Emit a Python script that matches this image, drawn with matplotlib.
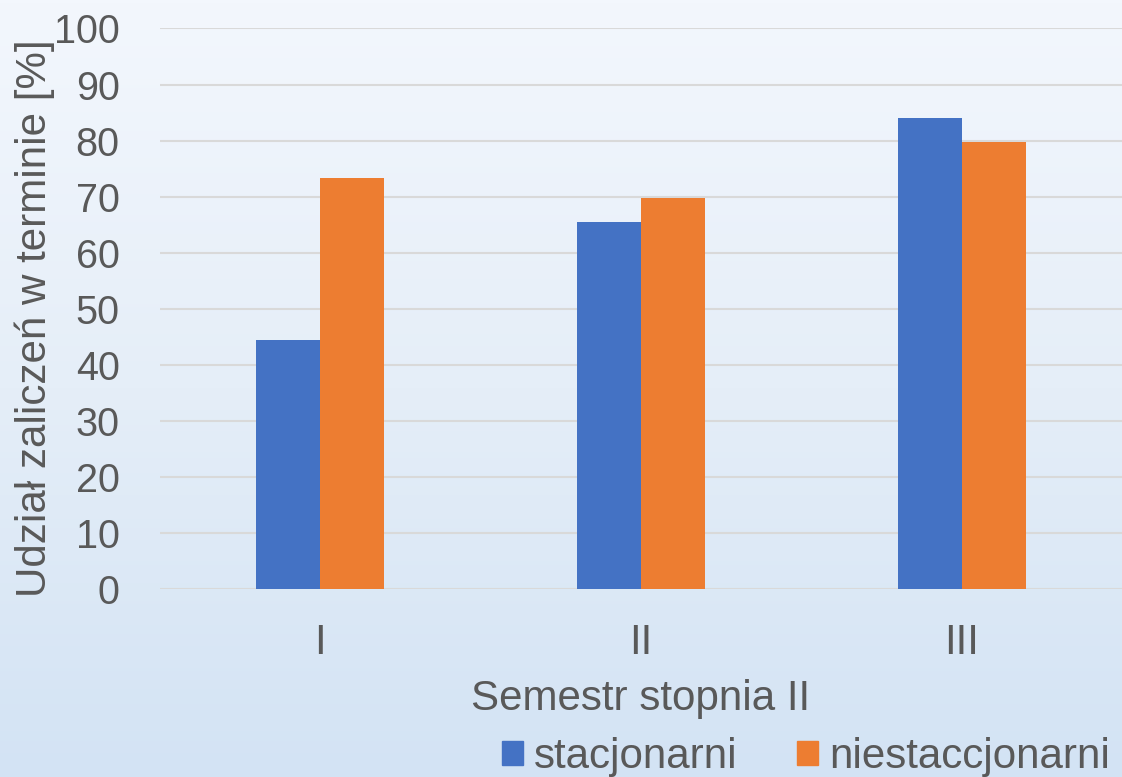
import numpy as np
import matplotlib
matplotlib.use("Agg")
import matplotlib.pyplot as plt
from matplotlib.patches import Patch
from matplotlib.colors import LinearSegmentedColormap

plt.rcParams['font.family'] = ['Liberation Sans', 'DejaVu Sans']

semesters = ['I', 'II', 'III']
stacjonarni = [44.4, 65.5, 84.1]
niestacjonarni = [73.3, 69.8, 79.8]
series_names = ['stacjonarni', 'niestaccjonarni']

blue = '#4472C4'
orange = '#ED7D31'
text_grey = '#595959'
fs_tick = 28.5
fs = 30.3

fig = plt.figure(figsize=(11.22, 7.77), dpi=100)

# soft vertical gradient behind everything
bg = fig.add_axes([0, 0, 1, 1], zorder=-10)
bg.set_axis_off()
grad = np.linspace(0, 1, 256).reshape(-1, 1)
cmap = LinearSegmentedColormap.from_list('bg', ['#F3F7FD', '#E5EEF8', '#D3E3F4'])
bg.imshow(grad, aspect='auto', cmap=cmap, extent=[0, 1, 0, 1], origin='upper')

ax = fig.add_axes([0.1426, 0.2414, 0.8574, 0.722])
ax.patch.set_alpha(0)

x = np.arange(len(semesters))
w = 0.2
ax.bar(x - w / 2, stacjonarni, width=w, color=blue, zorder=3)
ax.bar(x + w / 2, niestacjonarni, width=w, color=orange, zorder=3)

ax.set_xlim(-0.5, 2.5)
ax.set_ylim(0, 100)
ax.set_yticks(np.arange(0, 101, 10))
ax.set_xticks(x)
ax.set_xticklabels(semesters)
ax.grid(axis='y', color='#D9D9D9', linewidth=1.5, zorder=0)
ax.set_axisbelow(True)
for s in ax.spines.values():
    s.set_visible(False)
ax.tick_params(axis='both', length=0, labelsize=fs_tick, colors=text_grey)
ax.tick_params(axis='x', labelsize=fs, pad=24)
ax.tick_params(axis='y', pad=29)

fig.text(0.031, 1 - 318 / 777, 'Udział zaliczeń w terminie [%]', rotation=90,
         ha='center', va='center', fontsize=fs, color=text_grey)
fig.text(641 / 1122, 1 - 710 / 777, 'Semestr stopnia II',
         ha='center', va='baseline', fontsize=fs, color=text_grey)

handles = [Patch(color=blue), Patch(color=orange)]
leg = fig.legend(handles, series_names, loc='center', bbox_to_anchor=(806 / 1122, 1 - 757 / 777),
                 ncol=2, frameon=False, fontsize=fs, handlelength=0.5, handleheight=0.5,
                 handletextpad=0.27, columnspacing=1.4, borderaxespad=0, borderpad=0)
for t in leg.get_texts():
    t.set_color(text_grey)

fig.savefig('out.png', dpi=100)
